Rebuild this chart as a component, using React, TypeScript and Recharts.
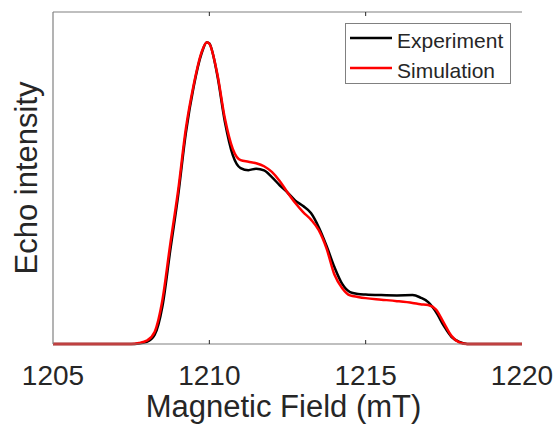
import { LineChart, Line, XAxis, YAxis, Legend, Label } from "recharts";

// magnetic field grid (mT)
const field = [
  1205, 1206, 1207, 1207.5, 1207.75, 1208, 1208.25, 1208.5, 1208.75, 1209, 1209.25, 1209.5,
  1209.75, 1209.92, 1210, 1210.25, 1210.5, 1210.75, 1211, 1211.25, 1211.5, 1211.75, 1212,
  1212.25, 1212.5, 1212.75, 1213, 1213.25, 1213.5, 1213.75, 1214, 1214.25, 1214.5, 1214.75,
  1215, 1215.5, 1216, 1216.5, 1216.75, 1217, 1217.25, 1217.5, 1217.75, 1218, 1218.25, 1219, 1220,
];

const experiment = [
  0, 0, 0, 0, 0.002, 0.007, 0.03, 0.125, 0.31, 0.49, 0.7, 0.853,
  0.962, 1.0, 0.996, 0.893, 0.735, 0.626, 0.583, 0.576, 0.581, 0.575, 0.553,
  0.526, 0.502, 0.475, 0.457, 0.434, 0.387, 0.325, 0.255, 0.199, 0.172, 0.166,
  0.164, 0.162, 0.161, 0.162, 0.154, 0.139, 0.106, 0.06, 0.023, 0.007, 0, 0, 0,
];

const simulation = [
  0, 0, 0, 0, 0.003, 0.011, 0.04, 0.146, 0.331, 0.507, 0.714, 0.859,
  0.966, 1.0, 0.995, 0.898, 0.746, 0.646, 0.609, 0.604, 0.599, 0.589, 0.57,
  0.54, 0.502, 0.467, 0.437, 0.412, 0.377, 0.316, 0.23, 0.185, 0.161, 0.156,
  0.152, 0.147, 0.142, 0.136, 0.132, 0.129, 0.114, 0.07, 0.026, 0.005, 0, 0, 0,
];

const xTicks = [1205, 1210, 1215, 1220];

const data = field.map((f, i) => ({ field: f, experiment: experiment[i], simulation: simulation[i] }));

const FONT = '"Liberation Sans", Arial, Helvetica, sans-serif';
const TEXT = "#262626";
const AXIS = "#808080";

const BottomTick = (props: any) => {
  const { x, y, payload } = props;
  const edge = payload.value === 1205 || payload.value === 1220;
  return (
    <g>
      {!edge && <line x1={x} x2={x} y1={y} y2={y - 4} stroke={TEXT} strokeWidth={1} />}
      <text x={x} y={y + 41} textAnchor="middle" fontSize={28} fontFamily={FONT} fill={TEXT}>
        {payload.value}
      </text>
    </g>
  );
};

const TopTick = (props: any) => {
  const { x, y, payload } = props;
  if (payload.value === 1205 || payload.value === 1220) return <g />;
  return <line x1={x} x2={x} y1={y} y2={y + 4} stroke={TEXT} strokeWidth={1} />;
};

const LegendBox = () => (
  <svg width={166} height={61} style={{ display: "block" }}>
    <rect x={0.5} y={0.5} width={165} height={60} fill="#fff" stroke={AXIS} strokeWidth={1} />
    <line x1={5} x2={47} y1={15} y2={15} stroke="#000" strokeWidth={2.5} />
    <text x={52} y={25} fontSize={21} fontFamily={FONT} fill={TEXT}>Experiment</text>
    <line x1={5} x2={47} y1={45} y2={45} stroke="#ff0000" strokeWidth={2.5} />
    <text x={52} y={55} fontSize={21} fontFamily={FONT} fill={TEXT}>Simulation</text>
  </svg>
);

export default function App() {
  return (
    <div style={{ position: "absolute", left: 0, top: 0, background: "#fff" }}>
      <LineChart width={556} height={431} data={data} margin={{ top: 11, right: 34, bottom: 0, left: 0 }}>
        <XAxis
          dataKey="field"
          type="number"
          domain={[1205, 1220]}
          ticks={xTicks}
          height={87}
          tickSize={0}
          tickMargin={0}
          tick={<BottomTick />}
          axisLine={{ stroke: AXIS, strokeWidth: 1.2 }}
          interval={0}
        >
          <Label
            content={({ viewBox }: any) => (
              <text
                x={viewBox.x + viewBox.width / 2 - 4}
                y={viewBox.y + 73}
                textAnchor="middle"
                fontSize={31}
                fontFamily={FONT}
                fill={TEXT}
              >
                Magnetic Field (mT)
              </text>
            )}
          />
        </XAxis>
        <XAxis
          xAxisId="top"
          orientation="top"
          dataKey="field"
          type="number"
          domain={[1205, 1220]}
          ticks={xTicks}
          height={1}
          tickSize={0}
          tickMargin={0}
          tick={<TopTick />}
          axisLine={{ stroke: AXIS, strokeWidth: 1.2 }}
          interval={0}
        />
        <YAxis
          type="number"
          domain={[0, 1.1]}
          width={53}
          tick={false}
          tickLine={false}
          axisLine={{ stroke: AXIS, strokeWidth: 1.2 }}
        >
          <Label
            content={({ viewBox }: any) => {
              const cx = 37;
              const cy = viewBox.y + viewBox.height / 2;
              return (
                <text
                  x={cx}
                  y={cy}
                  transform={`rotate(-90 ${cx} ${cy})`}
                  textAnchor="middle"
                  fontSize={31}
                  fontFamily={FONT}
                  fill={TEXT}
                >
                  Echo intensity
                </text>
              );
            }}
          />
        </YAxis>
        <YAxis
          yAxisId="right"
          orientation="right"
          type="number"
          domain={[0, 1.1]}
          width={0}
          tick={false}
          tickLine={false}
          axisLine={{ stroke: AXIS, strokeWidth: 1.2 }}
        />
        <Legend
          layout="horizontal"
          align="center"
          verticalAlign="middle"
          wrapperStyle={{ left: 345, top: 23, width: 166, height: 61 }}
          content={() => <LegendBox />}
        />
        <Line
          type="monotone"
          dataKey="experiment"
          stroke="#000"
          strokeWidth={2.5}
          dot={false}
          isAnimationActive={false}
        />
        <Line
          type="monotone"
          dataKey="simulation"
          stroke="#ff0000"
          strokeWidth={2.5}
          dot={false}
          isAnimationActive={false}
        />
      </LineChart>
    </div>
  );
}
